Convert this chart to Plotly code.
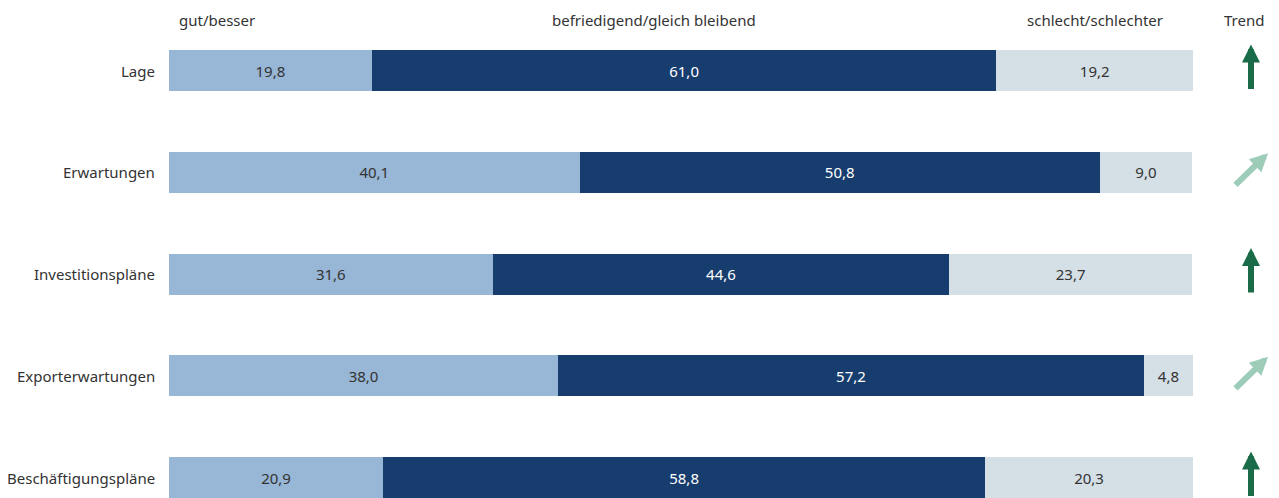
import plotly.graph_objects as go

categories = ["Lage", "Erwartungen", "Investitionspläne", "Exporterwartungen", "Beschäftigungspläne"]
gut = [19.8, 40.1, 31.6, 38.0, 20.9]
gleich = [61.0, 50.8, 44.6, 57.2, 58.8]
schlecht = [19.2, 9.0, 23.7, 4.8, 20.3]
trend = ["up", "diag", "up", "diag", "up"]
headers = ["gut/besser", "befriedigend/gleich bleibend", "schlecht/schlechter", "Trend"]

COL_GUT = "#98b6d5"
COL_GLEICH = "#173c6e"
COL_SCHLECHT = "#d4dfe6"
COL_TEXT = "#333333"
COL_UP = "#1a6b48"
COL_DIAG = "#9dccb9"
FONT = "Noto Sans"
FS = 15

# page body has an 8px margin, so the figure is drawn 8px in from the window edge
OFF = 8
W, H = 1279 - OFF, 498 - OFF
X0_PX, PX_PER_UNIT = 169 - OFF, 10.24
Y0_PX, ROW_PX = 70.5 - OFF, 101.75

ypos = list(range(len(categories)))


def fmt(v):
    return f"{v:.1f}".replace(".", ",")


fig = go.Figure()
for vals, col, tcol in [(gut, COL_GUT, COL_TEXT), (gleich, COL_GLEICH, "white"), (schlecht, COL_SCHLECHT, COL_TEXT)]:
    fig.add_trace(
        go.Bar(
            y=ypos, x=vals, orientation="h", marker={"color": col, "line": {"width": 0}},
            width=0.403, text=[fmt(v) for v in vals], textposition="inside",
            insidetextanchor="middle", textfont={"color": tcol, "size": FS, "family": FONT},
            constraintext="none", hoverinfo="skip", showlegend=False,
        )
    )

# Category labels
for i, cat in enumerate(categories):
    fig.add_annotation(
        x=0, y=i, text=cat, showarrow=False, xanchor="right", xshift=-12,
        font={"color": COL_TEXT, "size": FS, "family": FONT},
    )

# Column headers (window pixel positions converted to paper fractions)
for txt, px in zip(headers, [217, 654, 1095, 1244]):
    fig.add_annotation(
        x=(px - OFF) / W, y=1 - (20 - OFF) / H, xref="paper", yref="paper", text=txt, showarrow=False,
        xanchor="center", yanchor="middle", font={"color": COL_TEXT, "size": FS, "family": FONT},
    )

# Trend arrows
x_up = (1251 - 169) / PX_PER_UNIT
x_diag = (1268 - 169) / PX_PER_UNIT
for i, t in enumerate(trend):
    if t == "up":
        fig.add_annotation(
            x=x_up, y=i - 26 / ROW_PX, ax=0, ay=46, axref="pixel", ayref="pixel",
            showarrow=True, arrowhead=2, arrowsize=0.6, arrowwidth=6, arrowcolor=COL_UP, text="",
        )
    else:
        fig.add_annotation(
            x=x_diag, y=i - 19 / ROW_PX, ax=-34, ay=33, axref="pixel", ayref="pixel",
            showarrow=True, arrowhead=2, arrowsize=0.6, arrowwidth=6, arrowcolor=COL_DIAG, text="",
        )

n = len(categories)
fig.update_layout(
    barmode="stack",
    width=W, height=H,
    margin={"l": 0, "r": 0, "t": 0, "b": 0},
    paper_bgcolor="white", plot_bgcolor="white",
    xaxis={"visible": False, "range": [-X0_PX / PX_PER_UNIT, (W - X0_PX) / PX_PER_UNIT]},
    yaxis={"visible": False, "range": [n - 1 + (H - Y0_PX - (n - 1) * ROW_PX) / ROW_PX, -Y0_PX / ROW_PX]},
)

fig.write_html("out.html")
